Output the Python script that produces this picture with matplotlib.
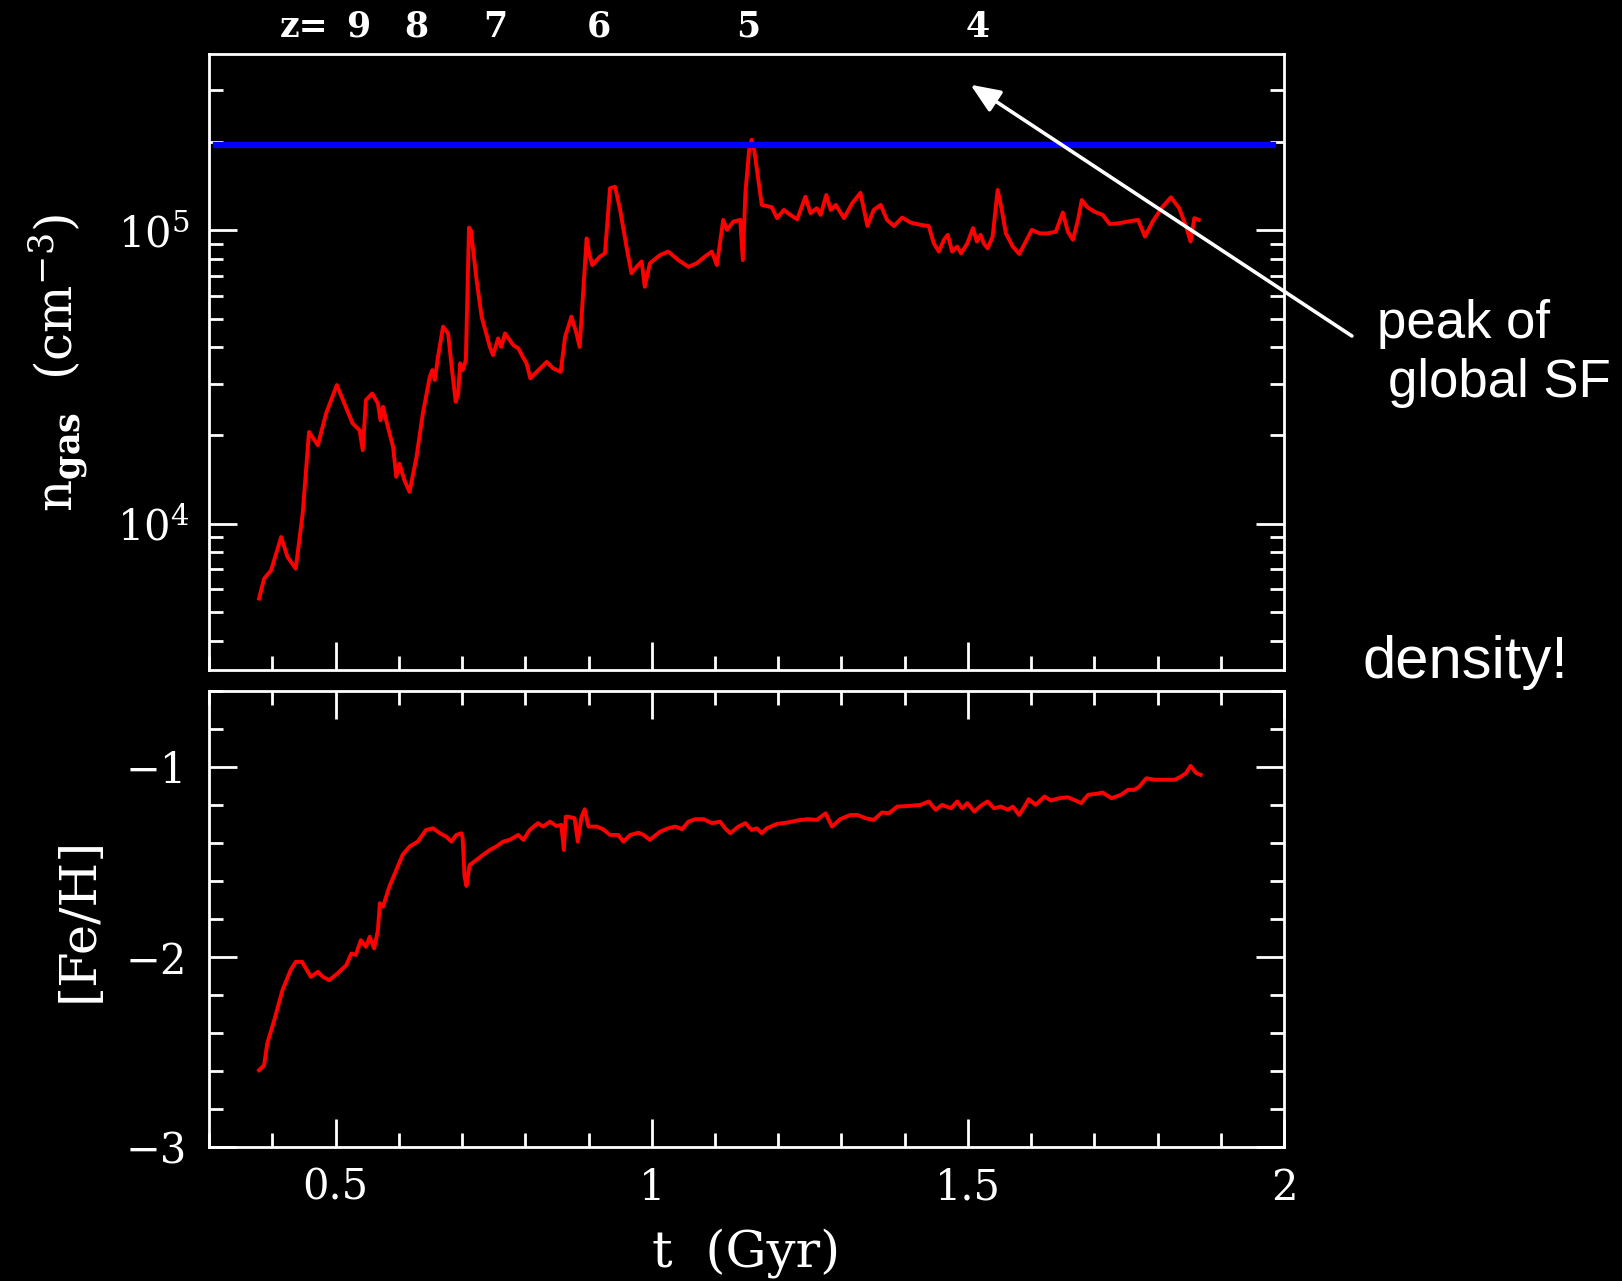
import numpy as np
import matplotlib
matplotlib.use("Agg")
import matplotlib.pyplot as plt
from matplotlib.ticker import MultipleLocator, LogLocator, NullFormatter

# gas density along the track (log10 n in cm^-3)
t_gas = [0.379, 0.387, 0.398, 0.414, 0.424, 0.437, 0.448, 0.458, 0.472, 0.485,
         0.502, 0.516, 0.527, 0.538, 0.543, 0.548, 0.558, 0.567, 0.571, 0.575,
         0.580, 0.591, 0.596, 0.601, 0.609, 0.617, 0.628, 0.638, 0.649, 0.653,
         0.657, 0.662, 0.670, 0.678, 0.683, 0.690, 0.694, 0.697, 0.701, 0.706,
         0.711, 0.714, 0.723, 0.731, 0.744, 0.749, 0.757, 0.762, 0.768, 0.781,
         0.789, 0.796, 0.802, 0.808, 0.818, 0.834, 0.844, 0.856, 0.863, 0.873,
         0.881, 0.886, 0.892, 0.897, 0.901, 0.906, 0.918, 0.926, 0.934, 0.942,
         0.950, 0.960, 0.968, 0.976, 0.984, 0.989, 0.997, 1.013, 1.026, 1.042,
         1.058, 1.071, 1.084, 1.095, 1.103, 1.113, 1.119, 1.129, 1.140, 1.144,
         1.148, 1.154, 1.158, 1.162, 1.174, 1.190, 1.198, 1.209, 1.219, 1.230,
         1.243, 1.251, 1.261, 1.267, 1.276, 1.283, 1.291, 1.304, 1.317, 1.330,
         1.341, 1.351, 1.362, 1.372, 1.383, 1.396, 1.409, 1.425, 1.438, 1.446,
         1.454, 1.462, 1.468, 1.475, 1.483, 1.489, 1.499, 1.508, 1.514, 1.520,
         1.525, 1.531, 1.539, 1.547, 1.553, 1.560, 1.571, 1.581, 1.590, 1.601,
         1.613, 1.626, 1.639, 1.650, 1.658, 1.666, 1.674, 1.680, 1.689, 1.700,
         1.713, 1.724, 1.737, 1.752, 1.769, 1.780, 1.792, 1.806, 1.821, 1.834,
         1.845, 1.852, 1.858, 1.865]
log_n_gas = [3.745, 3.813, 3.841, 3.955, 3.887, 3.847, 4.035, 4.313, 4.268, 4.376,
             4.473, 4.399, 4.342, 4.319, 4.251, 4.422, 4.444, 4.410, 4.353, 4.399,
             4.353, 4.262, 4.160, 4.205, 4.148, 4.109, 4.228, 4.376, 4.501, 4.524,
             4.490, 4.569, 4.672, 4.649, 4.547, 4.416, 4.444, 4.547, 4.524, 4.558,
             5.010, 5.000, 4.831, 4.706, 4.603, 4.575, 4.632, 4.603, 4.649, 4.609,
             4.598, 4.569, 4.547, 4.496, 4.518, 4.552, 4.530, 4.518, 4.638, 4.706,
             4.649, 4.603, 4.808, 4.973, 4.922, 4.882, 4.911, 4.922, 5.144, 5.149,
             5.070, 4.945, 4.854, 4.876, 4.894, 4.808, 4.888, 4.916, 4.928, 4.899,
             4.876, 4.888, 4.911, 4.928, 4.882, 5.036, 5.002, 5.030, 5.036, 4.899,
             5.127, 5.275, 5.309, 5.275, 5.087, 5.079, 5.042, 5.070, 5.053, 5.038,
             5.115, 5.059, 5.076, 5.053, 5.121, 5.070, 5.087, 5.042, 5.093, 5.128,
             5.015, 5.070, 5.087, 5.036, 5.015, 5.044, 5.027, 5.019, 5.015, 4.956,
             4.928, 4.968, 4.985, 4.928, 4.945, 4.922, 4.956, 5.008, 4.962, 4.985,
             4.956, 4.939, 4.979, 5.138, 5.076, 4.990, 4.945, 4.920, 4.956, 5.002,
             4.990, 4.990, 4.996, 5.061, 4.996, 4.968, 5.036, 5.104, 5.079, 5.064,
             5.053, 5.022, 5.024, 5.030, 5.036, 4.979, 5.030, 5.076, 5.113, 5.076,
             5.013, 4.962, 5.042, 5.036]

# star formation threshold
t_thresh = [0.311, 1.983]
n_thresh = 1.95e5

# metallicity
t_feh = [0.379, 0.387, 0.392, 0.403, 0.416, 0.429, 0.437, 0.447, 0.461, 0.472,
         0.480, 0.490, 0.503, 0.517, 0.525, 0.532, 0.540, 0.548, 0.554, 0.561,
         0.567, 0.570, 0.575, 0.585, 0.596, 0.606, 0.617, 0.630, 0.643, 0.654,
         0.665, 0.675, 0.683, 0.691, 0.699, 0.701, 0.704, 0.707, 0.712, 0.723,
         0.733, 0.744, 0.754, 0.765, 0.775, 0.789, 0.797, 0.807, 0.820, 0.828,
         0.839, 0.849, 0.857, 0.861, 0.864, 0.868, 0.878, 0.883, 0.889, 0.894,
         0.900, 0.913, 0.923, 0.934, 0.947, 0.955, 0.966, 0.979, 0.987, 0.997,
         1.013, 1.026, 1.037, 1.048, 1.058, 1.069, 1.082, 1.095, 1.108, 1.116,
         1.124, 1.137, 1.148, 1.158, 1.166, 1.174, 1.182, 1.198, 1.214, 1.230,
         1.246, 1.261, 1.275, 1.285, 1.298, 1.314, 1.325, 1.338, 1.351, 1.364,
         1.375, 1.388, 1.409, 1.425, 1.438, 1.449, 1.459, 1.473, 1.483, 1.491,
         1.499, 1.510, 1.520, 1.531, 1.541, 1.552, 1.563, 1.571, 1.581, 1.591,
         1.596, 1.607, 1.621, 1.631, 1.644, 1.658, 1.668, 1.679, 1.690, 1.703,
         1.713, 1.727, 1.742, 1.753, 1.763, 1.771, 1.782, 1.795, 1.811, 1.827,
         1.837, 1.845, 1.852, 1.861, 1.868]
feh = [-2.595, -2.568, -2.454, -2.332, -2.174, -2.068, -2.025, -2.025, -2.104, -2.077,
       -2.104, -2.121, -2.086, -2.042, -1.981, -1.989, -1.911, -1.946, -1.893, -1.954,
       -1.858, -1.717, -1.735, -1.630, -1.542, -1.463, -1.419, -1.393, -1.332, -1.323,
       -1.349, -1.367, -1.393, -1.358, -1.349, -1.375, -1.577, -1.626, -1.516, -1.489,
       -1.463, -1.437, -1.419, -1.393, -1.384, -1.358, -1.384, -1.332, -1.296, -1.314,
       -1.288, -1.311, -1.305, -1.437, -1.262, -1.262, -1.270, -1.393, -1.262, -1.223,
       -1.314, -1.314, -1.328, -1.358, -1.358, -1.393, -1.358, -1.346, -1.358, -1.384,
       -1.341, -1.323, -1.314, -1.328, -1.288, -1.275, -1.275, -1.296, -1.288, -1.323,
       -1.349, -1.314, -1.296, -1.332, -1.323, -1.349, -1.323, -1.300, -1.293, -1.282,
       -1.275, -1.279, -1.244, -1.314, -1.275, -1.253, -1.253, -1.270, -1.279, -1.240,
       -1.244, -1.209, -1.205, -1.200, -1.182, -1.226, -1.200, -1.218, -1.182, -1.218,
       -1.191, -1.235, -1.205, -1.182, -1.218, -1.209, -1.226, -1.209, -1.253, -1.200,
       -1.170, -1.200, -1.156, -1.177, -1.165, -1.160, -1.174, -1.191, -1.147, -1.142,
       -1.135, -1.165, -1.147, -1.121, -1.121, -1.104, -1.060, -1.068, -1.068, -1.068,
       -1.051, -1.033, -0.995, -1.033, -1.042]

# redshift labels along the top
z_labels = ["9", "8", "7", "6", "5", "4"]
z_times = [0.536, 0.628, 0.752, 0.916, 1.152, 1.515]

plt.rcParams['font.family'] = ['DejaVu Serif']
plt.rcParams['mathtext.fontset'] = 'dejavuserif'

fig = plt.figure(figsize=(16.22, 12.81), dpi=100, facecolor='black')
ax1 = fig.add_axes([0.1289, 0.4766, 0.6628, 0.4809], facecolor='black')
ax2 = fig.add_axes([0.1289, 0.1043, 0.6628, 0.3565], facecolor='black')

for ax in (ax1, ax2):
    for s in ax.spines.values():
        s.set_color('white')
        s.set_linewidth(2)
    ax.set_xlim(0.3, 2.0)
    ax.xaxis.set_major_locator(MultipleLocator(0.5))
    ax.xaxis.set_minor_locator(MultipleLocator(0.1))
    ax.tick_params(which='both', direction='in', colors='white', width=2,
                   left=True, right=True, bottom=True, labelsize=30)
    ax.tick_params(which='major', length=20)
    ax.tick_params(which='minor', length=10)

# top panel: gas density
ax1.plot(t_gas, np.power(10.0, log_n_gas), color='#ff0000', lw=2.8)
ax1.plot(t_thresh, [n_thresh, n_thresh], color='#0000ff', lw=4.5)
ax1.set_yscale('log')
ax1.set_ylim(10 ** 3.5, 10 ** 5.6)
ax1.yaxis.set_major_locator(LogLocator(base=10))
ax1.yaxis.set_minor_locator(LogLocator(base=10, subs=np.arange(2, 10)))
ax1.yaxis.set_minor_formatter(NullFormatter())
ax1.tick_params(which='both', top=False, labelbottom=False)
ax1.tick_params(axis='y', pad=14)
ax1.set_ylabel(r'$\mathrm{n_{\mathbf{gas}}}\ \ (\mathrm{cm}^{-3})$', color='white',
               fontsize=36, labelpad=20)

xt = ax1.get_xaxis_transform()
ax1.text(0.451, 1.045, "z=", transform=xt, color='white', fontsize=25,
         fontweight='bold', ha='center', va='center')
for lab, tz in zip(z_labels, z_times):
    ax1.text(tz, 1.045, lab, transform=xt, color='white', fontsize=25,
             fontweight='bold', ha='center', va='center')

# arrow + notes
ax1.annotate("", xy=(1.504, 3.14e5), xycoords='data',
             xytext=(0.8335, 0.7377), textcoords='figure fraction',
             arrowprops=dict(arrowstyle='-|>,head_length=0.6,head_width=0.25',
                             color='white', lw=2.6, mutation_scale=30,
                             shrinkA=0, shrinkB=0),
             annotation_clip=False)
fig.text(0.849, 0.736, "peak of", color='white', fontsize=38,
         family='Liberation Sans', ha='left', va='baseline')
fig.text(0.856, 0.690, "global SF", color='white', fontsize=38,
         family='Liberation Sans', ha='left', va='baseline')
fig.text(0.840, 0.483, "density!", color='white', fontsize=43,
         family='Liberation Sans', ha='left', va='center')

# bottom panel: metallicity
ax2.plot(t_feh, feh, color='#ff0000', lw=2.8)
ax2.set_ylim(-3, -0.6)
ax2.yaxis.set_major_locator(MultipleLocator(1))
ax2.yaxis.set_minor_locator(MultipleLocator(0.2))
ax2.tick_params(which='both', top=True)
ax2.tick_params(axis='y', pad=16)
ax2.tick_params(axis='x', pad=14)
ax2.set_xticks([0.5, 1, 1.5, 2])
ax2.set_xticklabels(["0.5", "1", "1.5", "2"])
ax2.set_ylabel("[Fe/H]", color='white', fontsize=37, labelpad=16)
ax2.set_xlabel("t  (Gyr)", color='white', fontsize=37, labelpad=14)

fig.savefig("out.png", dpi=100, facecolor='black')
